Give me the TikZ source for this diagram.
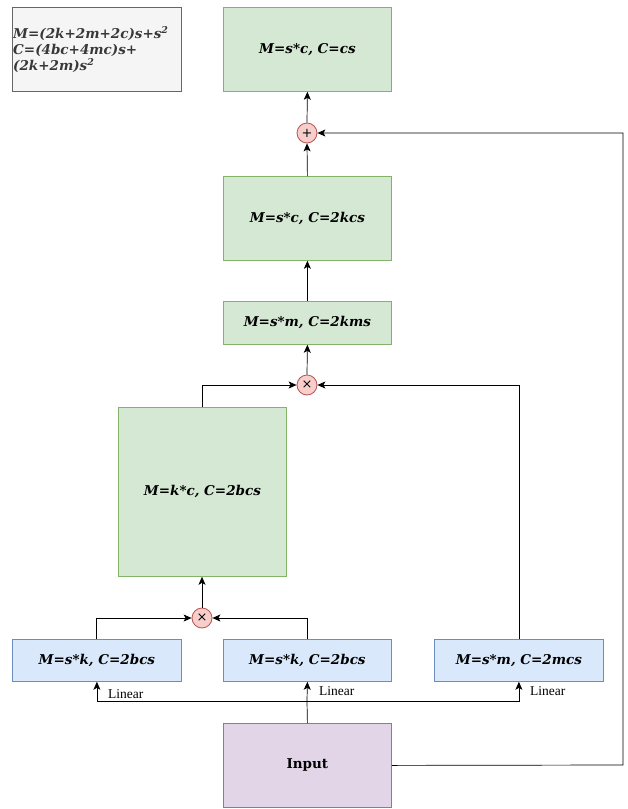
\documentclass[tikz,border=0pt]{standalone}
\usepackage{fontspec}
\setmainfont{Liberation Serif}
\newfontfamily\boxfont{DejaVu Serif}
\usetikzlibrary{arrows.meta}
\definecolor{gfill}{HTML}{D5E8D4}\definecolor{gdraw}{HTML}{82B366}
\definecolor{bfill}{HTML}{DAE8FC}\definecolor{bdraw}{HTML}{6C8EBF}
\definecolor{pfill}{HTML}{E1D5E7}\definecolor{pdraw}{HTML}{9673A6}
\definecolor{rfill}{HTML}{F8CECC}\definecolor{rdraw}{HTML}{B85450}
\definecolor{nfill}{HTML}{F5F5F5}\definecolor{ndraw}{HTML}{666666}
\begin{document}
\begin{tikzpicture}[x=1pt,y=-1pt,
  box/.style={draw,line width=0.8pt,inner sep=0pt,font=\boxfont\fontsize{13.5}{16}\selectfont\bfseries\itshape},
  gbox/.style={box,fill=gfill,draw=gdraw},
  bbox/.style={box,fill=bfill,draw=bdraw},
  op/.style={circle,draw=rdraw,fill=rfill,line width=0.8pt,minimum size=20pt,inner sep=0pt,font=\boxfont\fontsize{13}{13}\selectfont},
  arr/.style={-{Stealth[length=8pt,width=7pt,inset=2pt]},line width=0.7pt},
  lab/.style={font=\fontsize{13.5}{14}\selectfont,anchor=west,inner sep=1pt}]
\useasboundingbox (0,0) rectangle (627,809);
% boxes
\node[box,fill=nfill,draw=ndraw,minimum width=169pt,minimum height=84pt,anchor=north west] (note) at (12,7) {};
\node[anchor=north west,align=left,inner sep=0pt,font=\boxfont\fontsize{13.5}{16}\selectfont\bfseries\itshape,text=black!78] (notetext) at (13,26)
  {M=(2k+2m+2c)s+s\textsuperscript{2}\\C=(4bc+4mc)s+\\(2k+2m)s\textsuperscript{2}};
\node[gbox,minimum width=168pt,minimum height=84pt,anchor=north west] (top) at (223,7) {M=s*c, C=cs};
\node[op] (plus) at (307,133) {+};
\node[gbox,minimum width=168pt,minimum height=84pt,anchor=north west] (g2) at (223,176) {M=s*c, C=2kcs};
\node[gbox,minimum width=168pt,minimum height=43pt,anchor=north west] (g3) at (223,301) {M=s*m, C=2kms};
\node[op] (t1) at (307,385) {×};
\node[gbox,minimum width=168pt,minimum height=169pt,anchor=north west] (big) at (118,407) {M=k*c, C=2bcs};
\node[op] (t2) at (202,618) {×};
\node[bbox,minimum width=169pt,minimum height=42pt,anchor=north west] (b1) at (12,639) {M=s*k, C=2bcs};
\node[bbox,minimum width=168pt,minimum height=42pt,anchor=north west] (b2) at (223,639) {M=s*k, C=2bcs};
\node[bbox,minimum width=169pt,minimum height=42pt,anchor=north west] (b3) at (434,639) {M=s*m, C=2mcs};
\node[box,fill=pfill,draw=pdraw,minimum width=168pt,minimum height=84pt,anchor=north west] (in) at (223,723) {\upshape Input};
% connectors
\coordinate (split) at (307,701);
\coordinate (r) at (623,765);
\draw[line width=0.7pt] (in.north) -- (split);
\draw[arr] (split) -- (b2.south);
\draw[arr] (split) -| (b1.south);
\draw[arr] (split) -| (b3.south);
\node[lab] (l1) at (107,694) {Linear};
\node[lab] (l2) at (318,691) {Linear};
\node[lab] (l3) at (529,691) {Linear};
\draw[arr] (b1.north -| 96,0) |- (t2.west);
\draw[arr] (b2.north) |- (t2.east);
\draw[arr] (t2.north) -- (big.south -| t2.north);
\draw[arr] (big.north -| t2.north) |- (t1.west);
\draw[arr] (b3.north) |- (t1.east);
\draw[arr] (t1.north) -- (g3.south);
\draw[arr] (g3.north) -- (g2.south);
\draw[arr] (g2.north) -- (plus.south);
\draw[arr] (plus.north) -- (top.south);
\draw[arr] (in.east) -- (r) |- (plus.east);
\end{tikzpicture}
\end{document}
